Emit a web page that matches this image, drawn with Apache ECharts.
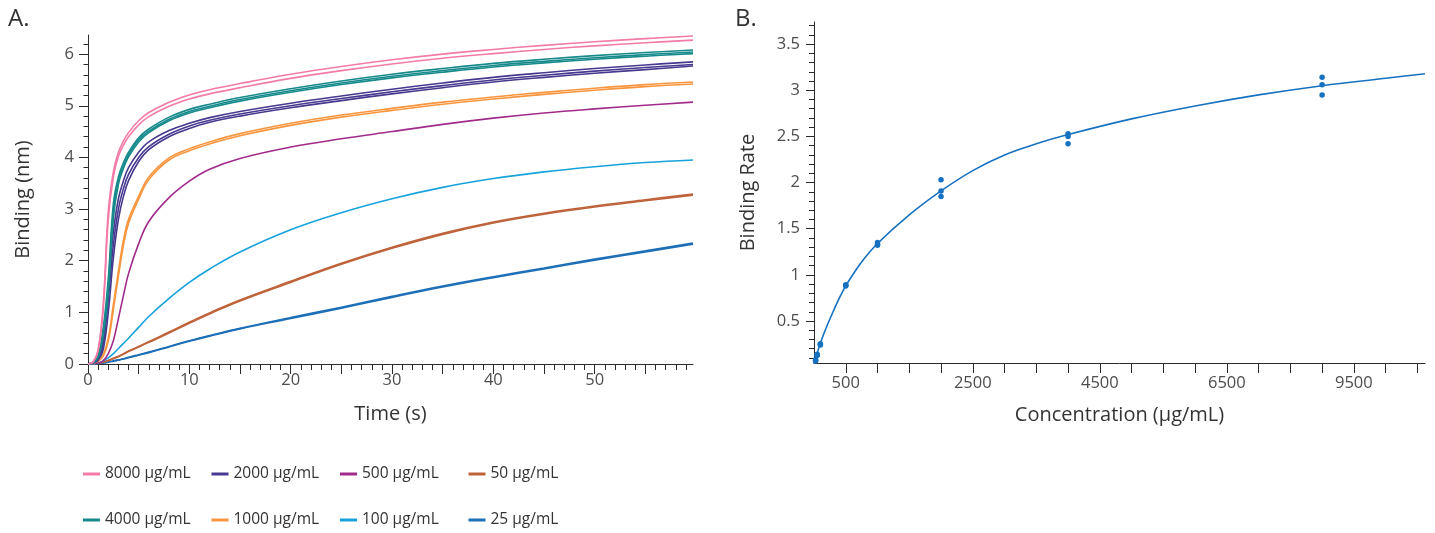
<!DOCTYPE html>
<html><head><meta charset="utf-8">
<script src="https://cdn.jsdelivr.net/npm/echarts@6/dist/echarts.min.js"></script>
<style>html,body{margin:0;padding:0;background:#fff}#c{width:1435px;height:533px}</style>
</head><body><div id="c"></div>
<script>
// ---------- Panel A data: binding (nm) vs time (s) ----------
const times = [0,0.5,1,1.5,2,2.5,3,3.5,4,5,6,8,10,12,15,20,25,30,35,40,45,50,55,59.7];
const pink1   = [0,0.04,0.28,1.15,2.95,3.72,4.10,4.32,4.48,4.71,4.87,5.07,5.21,5.31,5.43,5.61,5.76,5.89,6.00,6.09,6.17,6.24,6.30,6.35];
const pink2   = [0,0.04,0.25,1.05,2.80,3.62,4.02,4.24,4.40,4.63,4.79,4.99,5.13,5.23,5.35,5.53,5.68,5.81,5.92,6.01,6.09,6.16,6.22,6.27];
const teal1   = [0,0.03,0.17,0.70,1.65,3.10,3.62,3.90,4.10,4.38,4.55,4.78,4.93,5.03,5.16,5.33,5.48,5.61,5.72,5.82,5.90,5.97,6.03,6.08];
const teal2   = [0,0.03,0.15,0.62,1.50,2.95,3.55,3.84,4.05,4.34,4.51,4.74,4.89,4.99,5.12,5.29,5.44,5.57,5.68,5.78,5.86,5.93,5.99,6.04];
const teal3   = [0,0.02,0.13,0.55,1.38,2.82,3.48,3.79,4.01,4.30,4.48,4.71,4.86,4.96,5.09,5.26,5.41,5.54,5.65,5.75,5.83,5.90,5.96,6.01];
const purple1 = [0,0.03,0.12,0.50,1.50,2.55,3.20,3.55,3.80,4.10,4.30,4.52,4.66,4.77,4.89,5.05,5.19,5.32,5.44,5.55,5.64,5.72,5.79,5.85];
const purple2 = [0,0.02,0.09,0.38,1.25,2.30,3.00,3.40,3.67,4.00,4.21,4.45,4.61,4.72,4.84,5.00,5.14,5.27,5.39,5.50,5.59,5.67,5.74,5.80];
const purple3 = [0,0.02,0.07,0.28,1.00,2.05,2.80,3.25,3.55,3.92,4.15,4.40,4.56,4.68,4.80,4.96,5.10,5.23,5.35,5.46,5.55,5.63,5.70,5.77];
const orange1 = [0,0.02,0.06,0.18,0.50,1.15,1.80,2.40,2.80,3.25,3.62,3.99,4.17,4.30,4.46,4.66,4.82,4.95,5.07,5.17,5.26,5.34,5.41,5.46];
const orange2 = [0,0.02,0.05,0.15,0.44,1.05,1.70,2.30,2.72,3.19,3.57,3.95,4.13,4.26,4.42,4.62,4.78,4.91,5.03,5.13,5.22,5.30,5.37,5.42];
const magenta = [0,0.01,0.02,0.06,0.20,0.45,0.88,1.33,1.75,2.33,2.76,3.22,3.54,3.77,3.98,4.20,4.36,4.50,4.64,4.76,4.86,4.94,5.01,5.07];
const ltblue  = [0,0.005,0.02,0.06,0.12,0.20,0.30,0.40,0.50,0.71,0.92,1.27,1.58,1.84,2.17,2.60,2.93,3.20,3.42,3.59,3.72,3.82,3.90,3.95];
const brown1  = [0,0.005,0.02,0.04,0.07,0.11,0.15,0.20,0.25,0.34,0.43,0.62,0.81,0.99,1.24,1.60,1.95,2.26,2.53,2.75,2.92,3.06,3.18,3.29];
const brown2  = [0,0.005,0.02,0.035,0.065,0.10,0.14,0.19,0.24,0.33,0.42,0.60,0.79,0.97,1.22,1.58,1.93,2.24,2.51,2.73,2.90,3.04,3.16,3.27];
const blue1   = [0,0.003,0.01,0.02,0.04,0.06,0.08,0.10,0.13,0.18,0.23,0.34,0.45,0.55,0.69,0.90,1.10,1.31,1.51,1.69,1.86,2.03,2.19,2.34];
const blue2   = [0,0.003,0.01,0.02,0.035,0.055,0.075,0.095,0.12,0.17,0.22,0.33,0.44,0.54,0.68,0.88,1.08,1.29,1.49,1.67,1.84,2.01,2.17,2.32];

const legendNames = ['8000 µg/mL','4000 µg/mL','2000 µg/mL','1000 µg/mL','500 µg/mL','100 µg/mL','50 µg/mL','25 µg/mL'];
const seriesColors = ['#F27BA8','#178A8C','#46398F','#F8963F','#A12B8B','#17A2DC','#BE6239','#1C6EB6'];

// ---------- Panel B data: binding rate vs concentration ----------
const concentrations = [25, 50, 100, 500, 1000, 2000, 4000, 8000];
const rateRep1 = [0.08, 0.14, 0.25, 0.89, 1.35, 2.03, 2.53, 3.14];
const rateRep2 = [0.07, 0.13, 0.25, 0.89, 1.33, 1.91, 2.50, 3.06];
const rateRep3 = [0.07, 0.13, 0.24, 0.88, 1.32, 1.85, 2.42, 2.95];
const fitConc = [0,25,50,100,200,300,400,500,600,750,1000,1500,2000,2500,3000,3500,4000,5000,6000,7000,8000,9000,9620];
const fitRate = [0.03,0.09,0.15,0.26,0.44,0.60,0.75,0.88,0.99,1.14,1.34,1.65,1.91,2.13,2.30,2.42,2.52,2.69,2.83,2.95,3.05,3.13,3.18];

// ---------- tick labels ----------
const timeTickLabels = ['0','10','20','30','40','50'];
const timeTickValues = [0,10,20,30,40,50];
const bindTickValues = [0,1,2,3,4,5,6];
const concTickValues = [500,2500,4500,6500,8500];
const concTickLabels = ['500','2500','4500','6500','9500'];
const rateTickValues = [0.5,1,1.5,2,2.5,3,3.5];
const rateTickLabels = ['0.5','1','1.5','2','2.5','3','3.5'];

// tick positions (layout, not data)
const range = (a, b, s) => { const r = []; for (let i = 0; a + i * s <= b + 1e-9; i++) r.push(+(a + i * s).toFixed(4)); return r; };

const FONT = '"Open Sans", Lato, "Noto Sans", sans-serif';
const AX = '#2b2b2b';
const LBL = '#4d4d4d';
const TICKFS = 16.5;

const zip = (xs, ys) => xs.map((x, i) => [x, ys[i]]);

const groups = [
  [pink1, pink2], [teal1, teal2, teal3], [purple1, purple2, purple3], [orange1, orange2],
  [magenta], [ltblue], [brown1, brown2], [blue1, blue2]
];

const series = [];
groups.forEach((reps, gi) => {
  reps.forEach(vals => {
    series.push({
      type: 'line', name: legendNames[gi], xAxisIndex: 0, yAxisIndex: 0,
      data: zip(times, vals), showSymbol: false, smooth: 0.4,
      lineStyle: { color: seriesColors[gi], width: 1.6 }, itemStyle: { color: seriesColors[gi] },
      z: 10 - gi, silent: true
    });
  });
});
[rateRep1, rateRep2, rateRep3].forEach(r => {
  series.push({
    type: 'scatter', xAxisIndex: 2, yAxisIndex: 2, data: zip(concentrations, r),
    symbolSize: 5.5, itemStyle: { color: '#1672C0', opacity: 1 }, silent: true, z: 5
  });
});
series.push({
  type: 'line', xAxisIndex: 2, yAxisIndex: 2, data: zip(fitConc, fitRate),
  showSymbol: false, smooth: 0.4,
  lineStyle: { color: '#1672C0', width: 1.6 }, silent: true, z: 4
});

const baseAxis = (extra) => Object.assign({
  type: 'value', splitLine: { show: false },
  axisLine: { show: true, lineStyle: { color: AX, width: 1 } },
  axisTick: { show: true, lineStyle: { color: AX, width: 1 } },
  axisLabel: { color: LBL, fontFamily: FONT, fontSize: TICKFS },
  nameTextStyle: { color: '#333', fontFamily: FONT, fontSize: 20 }
}, extra);

// legend rows: 8000/2000/500/50 on top, 4000/1000/100/25 below
const legends = [0, 1, 2, 3].map(c => ({
  orient: 'vertical', left: 83 + c * 128.5, top: 466, padding: 0,
  data: [legendNames[[0,2,4,6][c]], legendNames[[1,3,5,7][c]]],
  icon: 'rect', itemWidth: 17, itemHeight: 3, itemGap: 30,
  textStyle: { color: '#333', fontFamily: FONT, fontSize: 15.5, lineHeight: 16 },
  selectedMode: false
}));

const option = {
  animation: false,
  backgroundColor: '#fff',
  textStyle: { fontFamily: FONT },
  grid: [
    { left: 88, right: 742, top: 35, bottom: 169 },
    { left: 814, right: 10, top: 22, bottom: 170 }
  ],
  xAxis: [
    baseAxis({ gridIndex: 0, min: 0, max: 59.7, name: 'Time (s)', nameLocation: 'middle', nameGap: 40,
      axisTick: { show: true, length: 10, customValues: range(0, 55, 5), lineStyle: { color: AX } },
      axisLabel: { color: LBL, fontFamily: FONT, fontSize: TICKFS, margin: 8, customValues: timeTickValues,
        formatter: v => timeTickLabels[timeTickValues.indexOf(v)] ?? '' } }),
    baseAxis({ gridIndex: 0, min: 0, max: 59.7, position: 'bottom', axisLine: { show: false },
      axisTick: { show: true, length: 6, customValues: range(0, 59, 1), lineStyle: { color: AX } },
      axisLabel: { show: false } }),
    baseAxis({ gridIndex: 1, min: 0, max: 9620, name: 'Concentration (µg/mL)', nameLocation: 'middle', nameGap: 42,
      axisTick: { show: true, length: 10, customValues: range(500, 9500, 500), lineStyle: { color: AX } },
      axisLabel: { color: LBL, fontFamily: FONT, fontSize: TICKFS, margin: 12, customValues: concTickValues,
        formatter: v => concTickLabels[concTickValues.indexOf(v)] ?? '' } })
  ],
  yAxis: [
    baseAxis({ gridIndex: 0, min: 0, max: 6.37, name: 'Binding (nm)', nameLocation: 'middle', nameGap: 55,
      axisTick: { show: true, length: 9, customValues: bindTickValues, lineStyle: { color: AX } },
      axisLabel: { color: LBL, fontFamily: FONT, fontSize: TICKFS, margin: 14, customValues: bindTickValues,
        formatter: v => String(v) } }),
    baseAxis({ gridIndex: 0, min: 0, max: 6.37, position: 'left', axisLine: { show: false },
      axisTick: { show: true, length: 4.5, customValues: range(0, 6.2, 0.2), lineStyle: { color: AX } },
      axisLabel: { show: false } }),
    baseAxis({ gridIndex: 1, min: 0.045, max: 3.74, name: 'Binding Rate', nameLocation: 'middle', nameGap: 56,
      axisTick: { show: true, length: 8, customValues: rateTickValues, lineStyle: { color: AX } },
      axisLabel: { color: LBL, fontFamily: FONT, fontSize: TICKFS, margin: 14, customValues: rateTickValues,
        formatter: v => rateTickLabels[rateTickValues.indexOf(v)] ?? '' } }),
    baseAxis({ gridIndex: 1, min: 0.045, max: 3.74, position: 'left', axisLine: { show: false },
      axisTick: { show: true, length: 5, customValues: range(0.1, 3.7, 0.1), lineStyle: { color: AX } },
      axisLabel: { show: false } })
  ],
  legend: legends,
  graphic: [
    { type: 'text', left: 8, top: 7, style: { text: 'A.', fill: '#333', font: '24px ' + FONT } },
    { type: 'text', left: 735, top: 7, style: { text: 'B.', fill: '#333', font: '24px ' + FONT } }
  ],
  series: series
};

const chart = echarts.init(document.getElementById('c'), null, { renderer: 'canvas' });
chart.setOption(option);
</script>
</body></html>
